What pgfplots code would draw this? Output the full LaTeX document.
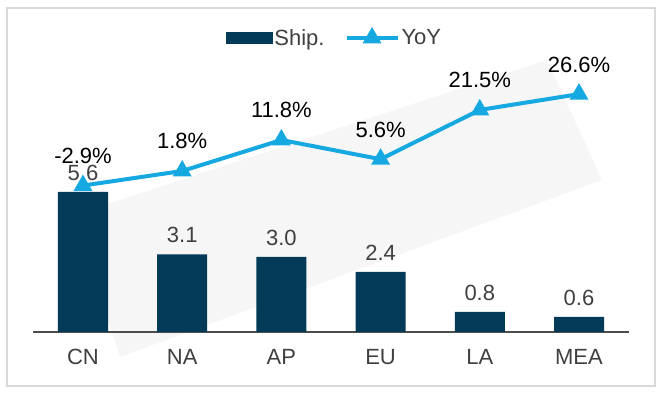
\documentclass[border=0pt]{standalone}
\usepackage{pgfplots}
\pgfplotsset{compat=1.18}
\usepackage{fontspec}
\setmainfont{Liberation Sans}
\definecolor{barc}{HTML}{023A58}
\definecolor{linec}{HTML}{16A9E1}
\definecolor{txt}{HTML}{404040}
\begin{document}
\begin{tikzpicture}
\useasboundingbox (0,0) rectangle (661bp,393bp);
\draw[color=gray!30, line width=1.5bp] (7bp,7bp) rectangle (655bp,385bp);
% faint watermark band
\fill[gray!7] (74bp,178bp) -- (547bp,333bp) -- (602bp,213bp) -- (120bp,36bp) -- cycle;
\begin{axis}[
  at={(33.4bp,61bp)}, anchor=south west,
  scale only axis, width=595.2bp, height=280bp,
  xmin=-0.5, xmax=5.5, ymin=0, ymax=11.2,
  axis x line*=bottom, axis y line=none,
  x axis line style={draw=gray!60!black, line width=1.5bp, -},
  xtick={0,...,5}, xticklabels={CN,NA,AP,EU,LA,MEA},
  major tick length=0pt,
  xticklabel style={font=\fontsize{22bp}{26bp}\selectfont, text=txt, yshift=-14bp},
  /pgf/number format/assume math mode=true,
  ybar, bar width=50bp,
  nodes near coords={\pgfmathprintnumber[fixed,precision=1,fixed zerofill]{\pgfplotspointmeta}},
  every node near coord/.append style={font=\fontsize{22bp}{26bp}\selectfont, text=txt, yshift=8bp},
]
\addplot[fill=barc, draw=none] coordinates {(0,5.6) (1,3.1) (2,3.0) (3,2.4) (4,0.8) (5,0.6)};
\end{axis}
\begin{axis}[
  at={(33.4bp,61bp)}, anchor=south west,
  scale only axis, width=595.2bp, height=280bp,
  xmin=-0.5, xmax=5.5, ymin=-50.14, ymax=40.19,
  hide axis,
  /pgf/number format/assume math mode=true,
  legend style={at={(0.506,1.05)}, anchor=center, draw=none, fill=none,
    legend columns=2, font=\fontsize{22bp}{26bp}\selectfont, text=txt,
    nodes={inner sep=2bp},
    /tikz/every even column/.append style={column sep=18bp}},
  legend cell align=left,
]
\addlegendimage{legend image code/.code={\fill[barc] (0bp,-5.5bp) rectangle (46bp,5.5bp);}}
\addlegendentry{Ship.}
\addplot[color=linec, line width=4bp, mark=triangle*, mark size=7bp, mark options={solid},
  legend image code/.code={\draw[linec, line width=4bp] (0bp,0bp) -- (51bp,0bp);
     \fill[linec] (25.5bp,7bp) -- (19.4bp,-3.5bp) -- (31.6bp,-3.5bp) -- cycle;},
  nodes near coords={\pgfmathprintnumber[fixed,precision=1,fixed zerofill]{\pgfplotspointmeta}\%},
  every node near coord/.append style={font=\fontsize{22bp}{26bp}\selectfont, text=black, anchor=south, yshift=16.5bp}]
 coordinates {(0,-2.9) (1,1.8) (2,11.8) (3,5.6) (4,21.5) (5,26.6)};
\addlegendentry{YoY}
\end{axis}
\end{tikzpicture}
\end{document}
